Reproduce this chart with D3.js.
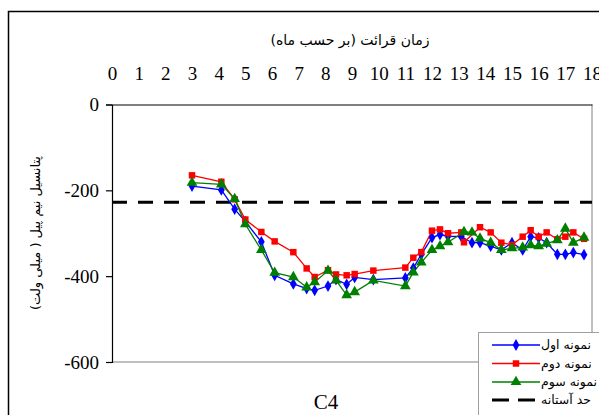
<!DOCTYPE html>
<html><head><meta charset="utf-8">
<script src="https://cdn.jsdelivr.net/npm/d3@7"></script>
<style>body{margin:0;background:#fff}svg{display:block}</style>
</head><body><svg id="c" width="599" height="415"></svg>
<script>
const xTicks = d3.range(0, 19);
const yTicks = [0, -200, -400, -600];
const threshold = -228;

const s1x = [3.0,4.1,4.6,5.0,5.6,6.1,6.8,7.3,7.6,8.1,8.4,8.8,9.1,9.8,11.0,11.3,11.6,12.0,12.3,12.6,13.1,13.5,13.8,14.2,14.6,15.0,15.4,15.7,16.0,16.3,16.7,17.0,17.3,17.7];
const s1y = [-190,-199,-244,-273,-320,-398,-418,-429,-433,-423,-408,-419,-403,-408,-404,-381,-349,-310,-303,-307,-308,-322,-322,-330,-339,-322,-339,-308,-311,-322,-349,-349,-345,-350];

const s2x = [3.0,4.1,4.6,5.0,5.6,6.1,6.8,7.3,7.6,8.1,8.4,8.8,9.1,9.8,11.0,11.3,11.6,12.0,12.3,12.6,13.1,13.2,13.8,14.2,14.6,15.0,15.4,15.7,16.0,16.3,16.7,17.0,17.3,17.7];
const s2y = [-165,-180,-221,-268,-297,-319,-344,-382,-402,-386,-396,-398,-395,-387,-380,-357,-344,-294,-291,-300,-298,-321,-286,-298,-322,-327,-308,-293,-308,-298,-314,-308,-298,-313];

const s3x = [3.0,4.1,4.6,5.0,5.6,6.1,6.8,7.3,7.6,8.1,8.4,8.8,9.1,9.8,11.0,11.3,11.6,12.0,12.3,12.6,13.2,13.5,13.8,14.2,14.6,15.0,15.4,15.7,16.0,16.3,16.7,17.0,17.3,17.7];
const s3y = [-182,-186,-220,-279,-339,-392,-402,-426,-414,-387,-410,-444,-437,-410,-423,-391,-368,-339,-330,-321,-297,-298,-312,-322,-339,-335,-333,-328,-330,-324,-316,-289,-322,-310];

const names = ["نمونه اول", "نمونه دوم", "نمونه سوم", "حد آستانه"];
const colors = ["#0000ff", "#ff0000", "#008000"];
const markers = [d3.symbolDiamond, d3.symbolSquare, d3.symbolTriangle];
const mSizes = [40, 42, 50];

const title = "زمان قرائت (بر حسب ماه)";
const yTitle = "پتانسیل نیم پیل ( میلی ولت)";
const caption = "C4";

const svg = d3.select("#c");
const serif = "'Liberation Serif','Times New Roman',serif";
const arab = "'DejaVu Sans',sans-serif";

// outer frame
svg.append("path").attr("d","M8.5,415 V11.5 H599").attr("fill","none").attr("stroke","#000").attr("stroke-width",1.5);

const x = d3.scaleLinear().domain([0,18]).range([112,592]);
const y = d3.scaleLinear().domain([-600,0]).range([362,104.5]);

// plot area border (right, bottom)
svg.append("path").attr("d",`M${x(18)},${y(0)} V${y(-600)} H${x(0)}`).attr("fill","none").attr("stroke","#808080").attr("stroke-width",1);

// y axis
const ya = svg.append("g").attr("transform",`translate(${x(0)},0)`)
  .call(d3.axisLeft(y).tickValues(yTicks).tickSize(6).tickPadding(7).tickFormat(d => String(d)));
ya.select(".domain").attr("stroke","#000").attr("stroke-width",1.2);
ya.selectAll("line").attr("stroke","#000").attr("stroke-width",1.2);
ya.selectAll("text").attr("font-family",serif).attr("font-size",19).attr("fill","#000");

// x axis at top
const xa = svg.append("g").attr("transform",`translate(0,${y(0)})`)
  .call(d3.axisTop(x).tickValues(xTicks).tickSize(0).tickPadding(25).tickFormat(d => String(d)));
xa.select(".domain").attr("stroke","#000").attr("stroke-width",1.2);
xa.selectAll("text").attr("font-family",serif).attr("font-size",19).attr("fill","#000");

// threshold
svg.append("line").attr("x1",x(0)).attr("x2",x(18)).attr("y1",y(threshold)).attr("y2",y(threshold))
  .attr("stroke","#000").attr("stroke-width",3).attr("stroke-dasharray","15,11");

const series = [[s1x,s1y],[s2x,s2y],[s3x,s3y]];
const line = d3.line().x(d=>x(d[0])).y(d=>y(d[1]));
series.forEach((s,i)=>{
  const pts = s[0].map((v,j)=>[v,s[1][j]]);
  svg.append("path").attr("d",line(pts)).attr("fill","none").attr("stroke",colors[i]).attr("stroke-width",1.3);
});
series.forEach((s,i)=>{
  const pts = s[0].map((v,j)=>[v,s[1][j]]);
  svg.append("g").selectAll("path").data(pts).join("path")
    .attr("d",d3.symbol().type(markers[i]).size(mSizes[i]))
    .attr("transform",d=>`translate(${x(d[0])},${y(d[1])})`)
    .attr("fill",colors[i]);
});

// titles
svg.append("text").attr("x",350).attr("y",45).attr("text-anchor","middle")
  .attr("font-family",arab).attr("font-size",14).attr("direction","rtl").text(title);
svg.append("text").attr("transform","translate(40,233) rotate(-90)").attr("text-anchor","middle")
  .attr("font-family",arab).attr("font-size",13).attr("direction","rtl").text(yTitle);
svg.append("text").attr("x",326).attr("y",409).attr("text-anchor","middle")
  .attr("font-family",serif).attr("font-size",21).text(caption);

// legend
const lg = svg.append("g");
lg.append("rect").attr("x",478.5).attr("y",332.5).attr("width",130).attr("height",100)
  .attr("fill","#fff").attr("stroke","#a0a0a0").attr("stroke-width",1);
const rowsY = [345, 363.5, 382, 400];
names.forEach((n,i)=>{
  const ry = rowsY[i];
  if (i<3) {
    lg.append("line").attr("x1",492).attr("x2",540).attr("y1",ry).attr("y2",ry).attr("stroke",colors[i]).attr("stroke-width",1.3);
    lg.append("path").attr("d",d3.symbol().type(markers[i]).size(mSizes[i])).attr("transform",`translate(516,${ry})`).attr("fill",colors[i]);
  } else {
    lg.append("line").attr("x1",492).attr("x2",536).attr("y1",ry).attr("y2",ry).attr("stroke","#000").attr("stroke-width",3).attr("stroke-dasharray","17,9");
  }
  lg.append("text").attr("x",541).attr("y",ry+4).attr("font-family",arab).attr("font-size",12.5).text(n);
});
</script></body></html>
